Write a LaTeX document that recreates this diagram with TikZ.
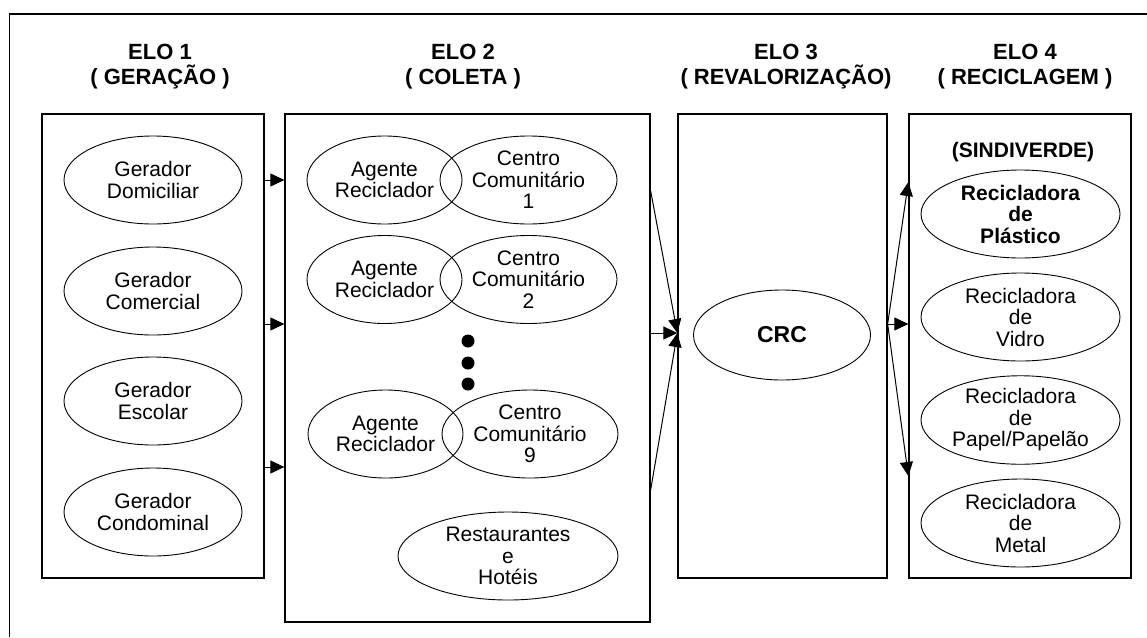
\documentclass[tikz,border=0pt]{standalone}
\usepackage{fontspec}
\setmainfont{Liberation Sans}
\usetikzlibrary{shapes.geometric,arrows.meta}
\begin{document}
\begin{tikzpicture}[x=1pt,y=-1pt,
  frame/.style={draw,line width=1.3pt},
  panel/.style={draw,rectangle,line width=1.3pt,inner sep=0pt,minimum width=222pt,minimum height=464pt},
  oval/.style={draw,ellipse,line width=0.9pt,inner sep=0pt,align=center,
    minimum height=88pt,font=\fontsize{21}{21.5}\selectfont},
  gen/.style={oval,minimum width=178pt},
  agent/.style={oval,minimum width=155pt},
  centre/.style={oval,minimum width=177pt},
  recyc/.style={oval,minimum width=199pt},
  title/.style={align=center,font=\fontsize{22}{25}\selectfont\bfseries},
  arr/.style={line width=1pt,-{Triangle[length=14pt,width=13pt]}},
  bigdot/.style={circle,fill,inner sep=0pt,minimum size=13pt}]
\useasboundingbox (0,0) rectangle (1147,637);

% outer frame (open to the right and bottom)
\draw[frame] (1147,14) -- (9.5,14) -- (9.5,637);

% titles
\node[title] (t1) at (160,67) {ELO 1\\( GERAÇÃO )};
\node[title] (t2) at (463,67) {ELO 2\\( COLETA )};
\node[title] (t3) at (786,67) {ELO 3\\( REVALORIZAÇÃO)};
\node[title] (t4) at (1025,67) {ELO 4\\( RECICLAGEM )};

% panels
\node[panel] (b1) at (153,346) {};
\node[panel,minimum width=365pt,minimum height=508pt] (b2) at (467.5,368) {};
\node[panel,minimum width=209pt] (b3) at (782.5,346) {};
\node[panel] (b4) at (1020,346) {};

% ELO 1: generators
\node[gen] (g1) at (153,180) {Gerador\\Domiciliar};
\node[gen] (g2) at (153,291) {Gerador\\Comercial};
\node[gen] (g3) at (153,401) {Gerador\\Escolar};
\node[gen] (g4) at (153,512) {Gerador\\Condominal};

% ELO 2: collection
\node[agent]  (a1) at (384.5,180)   {Agente\\Reciclador};
\node[centre] (c1) at (528.5,180)   {Centro\\Comunitário\\1};
\node[agent]  (a2) at (384.5,279.5) {Agente\\Reciclador};
\node[centre] (c2) at (528.5,279.5) {Centro\\Comunitário\\2};
\node[bigdot] (d1) at (468,341) {};
\node[bigdot] (d2) at (468,363) {};
\node[bigdot] (d3) at (468,384) {};
\node[agent]  (a3) at (385.5,434)   {Agente\\Reciclador};
\node[centre,minimum width=176pt] (c3) at (530,434) {Centro\\Comunitário\\9};
\node[oval,minimum width=220pt] (rh) at (508,556) {Restaurantes\\e\\Hotéis};

% ELO 3
\node[oval,minimum width=177pt,minimum height=90pt,font=\fontsize{23}{24}\selectfont\bfseries] (crc) at (782,335) {CRC};

% ELO 4
\node[font=\fontsize{21}{21.5}\selectfont\bfseries,anchor=base] (sind) at (1023,157) {(SINDIVERDE)};
\node[recyc,font=\fontsize{21}{21.5}\selectfont\bfseries] (p1) at (1020.5,214) {Recicladora\\de\\Plástico};
\node[recyc] (p2) at (1020.5,317) {Recicladora\\de\\Vidro};
\node[recyc] (p3) at (1020.5,420) {Recicladora\\de\\Papel/Papelão};
\node[recyc] (p4) at (1020.5,523) {Recicladora\\de\\Metal};

% heights where the connectors meet the panels
\coordinate (ya) at (0,180);
\coordinate (yb) at (0,324);
\coordinate (yc) at (0,467);
\coordinate (yd) at (0,191);
\coordinate (ye) at (0,333);
\coordinate (yf) at (0,490);
\coordinate (yg) at (0,182);
\coordinate (yh) at (0,324);
\coordinate (yi) at (0,476);

% ELO 1 -> ELO 2
\draw[arr] (b1.east |- ya) -- (b2.west |- ya);
\draw[arr] (b1.east |- yb) -- (b2.west |- yb);
\draw[arr] (b1.east |- yc) -- (b2.west |- yc);

% ELO 2 -> ELO 3
\draw[arr] (b2.east |- yd) -- (b3.west |- ye);
\draw[arr] (b2.east |- ye) -- (b3.west |- ye);
\draw[arr] (b2.east |- yf) -- (b3.west |- ye);

% ELO 3 -> ELO 4
\draw[arr] (b3.east |- yh) -- (b4.west |- yg);
\draw[arr] (b3.east |- yh) -- (b4.west |- yh);
\draw[arr] (b3.east |- yh) -- (b4.west |- yi);
\end{tikzpicture}
\end{document}
